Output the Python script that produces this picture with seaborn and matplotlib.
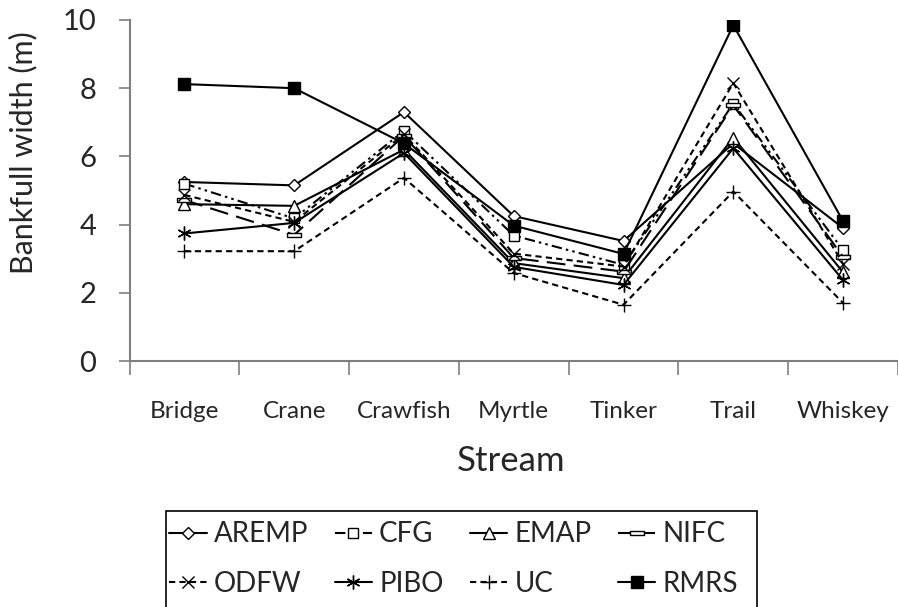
import matplotlib
matplotlib.use("Agg")
import matplotlib.pyplot as plt
from matplotlib.patches import Rectangle
import seaborn as sns
import numpy as np
import pandas as pd

streams = ["Bridge", "Crane", "Crawfish", "Myrtle", "Tinker", "Trail", "Whiskey"]
aremp = [5.25, 5.15, 7.30, 4.25, 3.52, 6.38, 3.90]
cfg   = [5.20, 4.18, 6.75, 3.68, 2.82, 7.55, 3.25]
emap  = [4.60, 4.55, 6.20, 2.87, 2.43, 6.55, 2.60]
nifc  = [4.72, 3.70, 6.60, 3.02, 2.62, 7.50, 3.05]
odfw  = [4.87, 4.08, 6.65, 3.15, 2.77, 8.15, 2.85]
pibo  = [3.74, 4.05, 6.10, 2.76, 2.23, 6.24, 2.37]
uc    = [3.22, 3.22, 5.37, 2.58, 1.65, 4.97, 1.70]
rmrs  = [8.12, 8.00, 6.38, 3.97, 3.14, 9.85, 4.10]

series_names = ["AREMP", "CFG", "EMAP", "NIFC", "ODFW", "PIBO", "UC", "RMRS"]
series_vals = [aremp, cfg, emap, nifc, odfw, pibo, uc, rmrs]

y_ticks = [0, 2, 4, 6, 8, 10]

nifc_marker = [(-1, -0.35), (1, -0.35), (1, 0.35), (-1, 0.35), (-1, -0.35)]
styles = {
    "AREMP": dict(marker="D", ms=6, mfc="white", ls="-"),
    "CFG":   dict(marker="s", ms=7, mfc="white", ls=(0, (5, 2, 1.2, 2, 1.2, 2))),
    "EMAP":  dict(marker="^", ms=8, mfc="white", ls="-"),
    "NIFC":  dict(marker=nifc_marker, ms=10, mfc="white", ls=(0, (9, 4))),
    "ODFW":  dict(marker="x", ms=9, mfc="none", ls=(0, (3, 2))),
    "PIBO":  dict(marker=(6, 2, 0), ms=10, mfc="none", ls="-"),
    "UC":    dict(marker="+", ms=10, mfc="none", ls=(0, (3, 2))),
    "RMRS":  dict(marker="s", ms=9, mfc="black", ls="-"),
}

sns.set_theme(style="white")
plt.rcParams["font.family"] = ["Lato", "DejaVu Sans"]

fig = plt.figure(figsize=(8.98, 6.07), dpi=100)
ax = fig.add_axes([129.5 / 898, 1 - 361 / 607, 768.5 / 898, 341 / 607])

for name, vals in zip(series_names, series_vals):
    st = styles[name]
    df = pd.DataFrame({"Stream": streams, "Width": vals})
    sns.lineplot(data=df, x="Stream", y="Width", ax=ax, color="black",
                 linewidth=1.5, marker=st["marker"], markersize=st["ms"],
                 markerfacecolor=st["mfc"], markeredgecolor="black",
                 markeredgewidth=1.0, linestyle=st["ls"], label=name,
                 sort=False)

ax.set_xlim(-0.5, 6.5)
ax.set_ylim(0, 10)
ax.set_yticks(y_ticks)
ax.set_yticklabels([str(t) for t in y_ticks], fontsize=21)
ax.set_xticks(range(len(streams)))
ax.set_xticklabels(streams, fontsize=17.5)
ax.set_xticks(np.arange(-0.5, 7.0, 1.0), minor=True)
ax.tick_params(axis="x", which="major", length=0, pad=29)
ax.tick_params(axis="x", which="minor", length=10, width=1.2, color="#7f7f7f", direction="out", bottom=True)
ax.tick_params(axis="y", which="major", length=8, width=1.2, color="#7f7f7f", direction="out", left=True, pad=16)

for s in ["top", "right"]:
    ax.spines[s].set_visible(False)
for s in ["left", "bottom"]:
    ax.spines[s].set_color("#7f7f7f")
    ax.spines[s].set_linewidth(1.5)

ax.set_xlabel("Stream", fontsize=25)
ax.set_ylabel("Bankfull width (m)", fontsize=22)
ax.xaxis.set_label_coords(0.497, -0.245)
ax.yaxis.set_label_coords(-0.12, 0.61)

handles, labels = ax.get_legend_handles_labels()
hmap = dict(zip(labels, handles))
order = ["AREMP", "ODFW", "CFG", "PIBO", "EMAP", "UC", "NIFC", "RMRS"]
ax.get_legend().remove()
leg = fig.legend([hmap[k] for k in order], order, loc="upper left",
                 bbox_to_anchor=(161 / 898, 1 - 513 / 607), ncol=4,
                 fontsize=20, frameon=False,
                 handlelength=1.35, handletextpad=0.25, columnspacing=0.95,
                 labelspacing=0.85, borderpad=0.3, borderaxespad=0)

frame = Rectangle((166 / 898, -0.05), (757 - 166) / 898, 1.05 - 511 / 607,
                  transform=fig.transFigure, fill=False, edgecolor="black",
                  linewidth=1.2, clip_on=False)
fig.add_artist(frame)

fig.savefig("out.png", dpi=100)
